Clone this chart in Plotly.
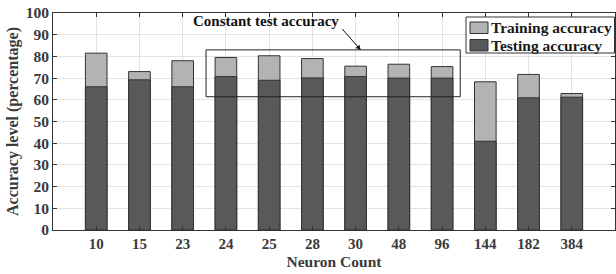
import plotly.graph_objects as go

neurons = ["10", "15", "23", "24", "25", "28", "30", "48", "96", "144", "182", "384"]
training = [81.5, 73.0, 78.0, 79.5, 80.3, 79.0, 75.5, 76.4, 75.3, 68.3, 71.7, 62.9]
testing = [66.0, 69.2, 66.0, 70.7, 69.0, 70.1, 70.7, 70.0, 70.0, 40.9, 60.9, 61.2]
y_ticks = list(range(0, 101, 10))
legend_labels = ["Training accuracy", "Testing accuracy"]

FONT = "Liberation Serif"
TXT = "#3a3a3a"
LINE = "#333333"
C_TRAIN = "#b3b3b3"
C_TEST = "#58595b"

L, R, T, B = 53, 1, 13, 44
W, H = 616, 274
PW, PH = W - L - R, H - T - B


def px(xp):
    return (xp - L) / PW


def py(yp):
    return (H - B - yp) / PH


fig = go.Figure()
fig.add_trace(go.Bar(
    x=neurons, y=training, name=legend_labels[0], width=0.5,
    marker=dict(color=C_TRAIN, line=dict(color=LINE, width=1)),
))
fig.add_trace(go.Bar(
    x=neurons, y=testing, name=legend_labels[1], width=0.5,
    marker=dict(color=C_TEST, line=dict(color=LINE, width=1)),
))

fig.add_shape(type="rect", xref="x", yref="y", x0=2.54, x1=8.42, y0=61.4, y1=83,
              line=dict(color="#222222", width=1), fillcolor="rgba(0,0,0,0)")

fig.add_annotation(x=3.93, y=96.1, xref="x", yref="y", text="Constant test accuracy",
                   showarrow=False,
                   font=dict(family=FONT, size=15, color="#111111", weight="bold"))
fig.add_annotation(x=6.12, y=82.9, xref="x", yref="y", ax=5.66, ay=93.3, axref="x", ayref="y",
                   text="", showarrow=True, arrowhead=2, arrowsize=1, arrowwidth=1,
                   arrowcolor="#111111")

# custom legend box
fig.add_shape(type="rect", xref="paper", yref="paper", x0=px(466), x1=px(614.5),
              y0=py(53), y1=py(17), line=dict(color=LINE, width=1), fillcolor="white",
              layer="above")
for i, (lab, col) in enumerate(zip(legend_labels, [C_TRAIN, C_TEST])):
    top = 22 + i * 17.5
    fig.add_shape(type="rect", xref="paper", yref="paper", x0=px(470), x1=px(488),
                  y0=py(top + 11.5), y1=py(top), line=dict(color=LINE, width=1),
                  fillcolor=col, layer="above")
    fig.add_annotation(x=px(489), y=py(top + 5.5), xref="paper", yref="paper", text=lab,
                       showarrow=False, xanchor="left", yanchor="middle",
                       font=dict(family=FONT, size=15.5, color="#1a1a1a", weight="bold"))

fig.update_layout(
    width=W, height=H,
    margin=dict(l=L, r=R, t=T, b=B, autoexpand=False),
    barmode="overlay",
    showlegend=False,
    plot_bgcolor="white", paper_bgcolor="white",
    font=dict(family=FONT, size=15, color=TXT, weight="bold"),
    xaxis=dict(
        type="category", range=[-1, 12], automargin=False,
        showgrid=True, gridcolor="#e3e3e3", gridwidth=1,
        showline=True, linecolor=LINE, linewidth=1, mirror="ticks",
        ticks="inside", ticklen=4, tickcolor=LINE,
        tickfont=dict(family=FONT, size=15, color=TXT, weight="bold"),
        title=dict(text="Neuron Count", standoff=5,
                   font=dict(family=FONT, size=15.5, color=TXT, weight="bold")),
    ),
    yaxis=dict(
        range=[0, 100], tickvals=y_ticks, automargin=False,
        showgrid=True, gridcolor="#e3e3e3", gridwidth=1,
        showline=True, linecolor=LINE, linewidth=1, mirror="ticks",
        ticks="inside", ticklen=4, tickcolor=LINE,
        tickfont=dict(family=FONT, size=15.5, color=TXT, weight="bold"),
        zeroline=False,
        title=dict(text="Accuracy level (percentage)", standoff=3,
                   font=dict(family=FONT, size=16, color=TXT, weight="bold")),
    ),
)

fig.write_html(
    "out.html",
    config={"displayModeBar": False},
    post_script="document.body.style.margin='0';document.body.style.padding='0';"
                "document.body.style.overflow='hidden';",
)
